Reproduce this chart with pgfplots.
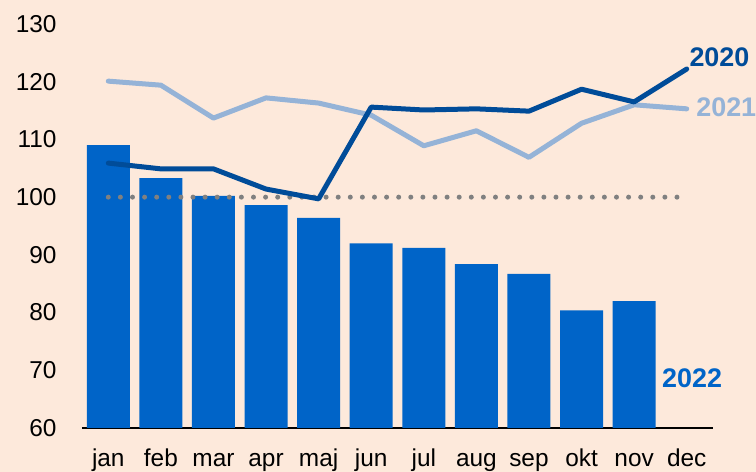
\documentclass[border=0pt]{standalone}
\usepackage{pgfplots}
\pgfplotsset{compat=1.18}
\usepackage{fontspec}
\setmainfont{Liberation Sans}
\definecolor{bg}{RGB}{253,233,219}
\definecolor{barc}{RGB}{0,100,200}
\definecolor{dk}{RGB}{0,76,153}
\definecolor{lt}{RGB}{149,179,215}
\definecolor{dotg}{RGB}{128,128,128}
\begin{document}
\begin{tikzpicture}
\fill[bg] (-82bp,-44bp) rectangle (674bp,428bp);
\begin{axis}[at={(0,0)}, anchor=south west, scale only axis,
  width=631bp, height=404bp,
  xmin=-0.5, xmax=11.5, ymin=60, ymax=130,
  ytick={60,70,...,130},
  xtick={0,...,11},
  xticklabels={jan,feb,mar,apr,maj,jun,jul,aug,sep,okt,nov,dec},
  axis x line*=bottom, axis y line*=left,
  x axis line style={black, line width=1.5bp, -},
  y axis line style={draw=none},
  major tick length=0pt, tick style={draw=none},
  /pgf/number format/assume math mode=true,
  tick label style={font=\fontsize{24.5}{24.5}\selectfont},
  yticklabel style={anchor=east, xshift=-22bp},
  xticklabel style={anchor=base, yshift=-38bp},
  clip mode=individual,
]
\addplot[ybar, bar width=43bp, fill=barc, draw=none] coordinates {
(0,109.0) (1,103.3) (2,100.2) (3,98.6) (4,96.4) (5,92.0) (6,91.2) (7,88.4) (8,86.7) (9,80.4) (10,82.0)};
\addplot[dotg, line width=5bp, line cap=round, dash pattern=on 0pt off 12.1bp] coordinates {(0,100) (11,100)};
\addplot[lt, line width=5bp, line cap=round, line join=round] coordinates {
(0,120.1) (1,119.4) (2,113.7) (3,117.2) (4,116.3) (5,114.2) (6,108.9) (7,111.5) (8,106.9) (9,112.8) (10,116.0) (11,115.3)};
\addplot[dk, line width=5bp, line cap=round, line join=round] coordinates {
(0,105.9) (1,104.9) (2,104.9) (3,101.4) (4,99.7) (5,115.6) (6,115.1) (7,115.3) (8,114.9) (9,118.7) (10,116.5) (11,122.2)};
\node[anchor=west, text=dk, font=\fontsize{27}{27}\selectfont\bfseries, inner sep=0pt] at (axis cs:11.05,124.3) {2020};
\node[anchor=west, text=lt, font=\fontsize{27}{27}\selectfont\bfseries, inner sep=0pt] at (axis cs:11.18,115.6) {2021};
\node[anchor=west, text=barc, font=\fontsize{27}{27}\selectfont\bfseries, inner sep=0pt] at (axis cs:10.53,68.6) {2022};
\end{axis}
\pgfresetboundingbox
\useasboundingbox (-82bp,-44bp) rectangle (674bp,428bp);
\end{tikzpicture}
\end{document}
